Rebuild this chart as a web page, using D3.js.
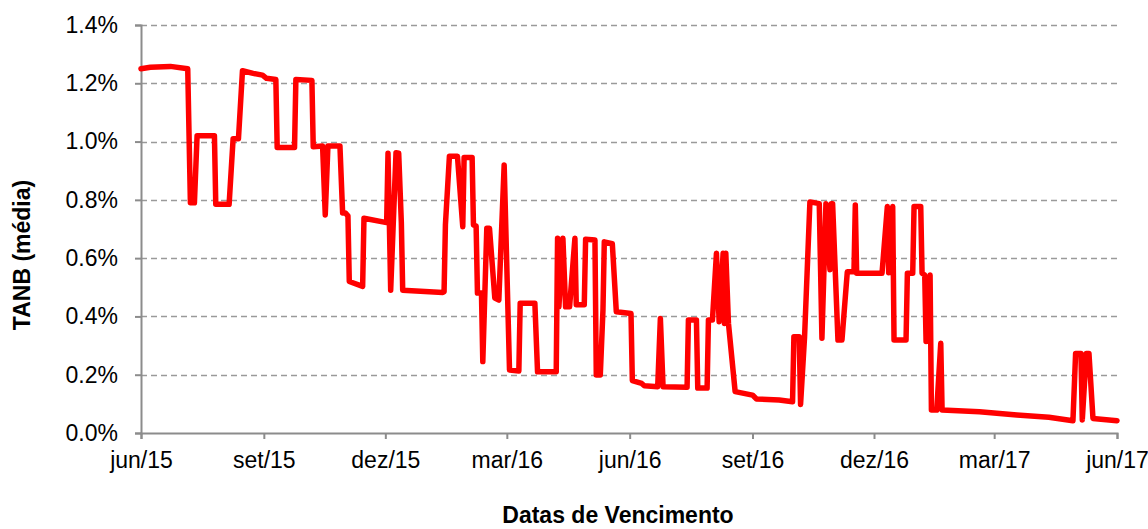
<!DOCTYPE html>
<html>
<head>
<meta charset="utf-8">
<script src="https://cdn.jsdelivr.net/npm/d3@7"></script>
<style>
  body { margin: 0; background: #fff; }
  text { font-family: "Liberation Sans", Arial, sans-serif; }
</style>
</head>
<body>
<div id="chart"></div>
<script>
const dates = [
  '2015-06-01','2015-06-08','2015-06-23','2015-07-06','2015-07-08','2015-07-11','2015-07-13','2015-07-26','2015-07-27','2015-08-06',
  '2015-08-09','2015-08-13','2015-08-16','2015-08-24','2015-08-31','2015-09-03','2015-09-10','2015-09-11','2015-09-24','2015-09-25',
  '2015-10-07','2015-10-08','2015-10-15','2015-10-17','2015-10-19','2015-10-28','2015-10-30','2015-11-01','2015-11-03','2015-11-04',
  '2015-11-14','2015-11-15','2015-12-02','2015-12-03','2015-12-05','2015-12-09','2015-12-11','2015-12-13','2015-12-14','2016-01-13',
  '2016-01-14','2016-01-15','2016-01-18','2016-01-24','2016-01-28','2016-01-29','2016-02-04','2016-02-05','2016-02-07','2016-02-08',
  '2016-02-11','2016-02-12','2016-02-15','2016-02-17','2016-02-21','2016-02-24','2016-02-28','2016-03-03','2016-03-10','2016-03-11',
  '2016-03-22','2016-03-24','2016-04-07','2016-04-08','2016-04-09','2016-04-12','2016-04-14','2016-04-17','2016-04-21','2016-04-22',
  '2016-04-28','2016-04-29','2016-05-06','2016-05-07','2016-05-10','2016-05-12','2016-05-13','2016-05-19','2016-05-22','2016-06-02',
  '2016-06-03','2016-06-10','2016-06-12','2016-06-22','2016-06-24','2016-06-26','2016-07-14','2016-07-15','2016-07-21','2016-07-22',
  '2016-07-29','2016-07-30','2016-08-02','2016-08-05','2016-08-07','2016-08-10','2016-08-11','2016-08-12','2016-08-14','2016-08-19',
  '2016-09-01','2016-09-04','2016-09-21','2016-10-01','2016-10-02','2016-10-06','2016-10-07','2016-10-10','2016-10-14','2016-10-21',
  '2016-10-23','2016-10-26','2016-10-29','2016-10-30','2016-10-31','2016-11-04','2016-11-07','2016-11-11','2016-11-16','2016-11-17',
  '2016-11-18','2016-12-07','2016-12-11','2016-12-12','2016-12-15','2016-12-16','2016-12-25','2016-12-26','2016-12-30','2016-12-31',
  '2017-01-05','2017-01-06','2017-01-08','2017-01-09','2017-01-12','2017-01-13','2017-01-17','2017-01-20','2017-01-21','2017-02-18',
  '2017-03-18','2017-04-11','2017-04-29','2017-05-01','2017-05-05','2017-05-06','2017-05-09','2017-05-11','2017-05-14','2017-06-01'
];

// TANB média, em %
const tanb = [
  1.25,1.255,1.258,1.25,0.79,0.79,1.02,1.02,0.785,0.785,
  1.01,1.01,1.243,1.234,1.228,1.217,1.213,0.98,0.98,1.213,
  1.21,0.982,0.985,0.748,0.985,0.985,0.755,0.755,0.745,0.52,
  0.503,0.737,0.722,0.96,0.49,0.962,0.96,0.72,0.49,0.482,
  0.485,0.714,0.95,0.95,0.708,0.945,0.945,0.714,0.71,0.48,
  0.48,0.245,0.703,0.703,0.463,0.456,0.92,0.216,0.213,0.445,
  0.445,0.21,0.21,0.668,0.433,0.668,0.433,0.433,0.668,0.44,
  0.44,0.665,0.662,0.199,0.199,0.422,0.656,0.65,0.416,0.41,
  0.18,0.17,0.162,0.159,0.393,0.159,0.157,0.388,0.388,0.154,
  0.154,0.388,0.388,0.617,0.382,0.617,0.376,0.617,0.376,0.142,
  0.13,0.117,0.113,0.107,0.33,0.33,0.098,0.33,0.793,0.787,
  0.325,0.787,0.56,0.787,0.787,0.319,0.319,0.553,0.553,0.782,
  0.548,0.548,0.777,0.55,0.777,0.319,0.319,0.548,0.548,0.777,
  0.777,0.548,0.542,0.314,0.542,0.079,0.079,0.308,0.079,0.073,
  0.062,0.054,0.042,0.273,0.273,0.045,0.273,0.273,0.05,0.042
];

const xTickDates = ['2015-06-01','2015-09-01','2015-12-01','2016-03-01','2016-06-01','2016-09-01','2016-12-01','2017-03-01','2017-06-01'];
const xTickLabels = ['jun/15','set/15','dez/15','mar/16','jun/16','set/16','dez/16','mar/17','jun/17'];
const yTicks = [0, 0.2, 0.4, 0.6, 0.8, 1.0, 1.2, 1.4];

const width = 1148, height = 529;
const margin = { top: 25, right: 31, bottom: 96, left: 141 };
const fontSize = '23px';

const parse = d3.timeParse('%Y-%m-%d');
const data = dates.map((d, i) => ({ date: parse(d), value: tanb[i] }));

const svg = d3.select('#chart').append('svg')
  .attr('width', width)
  .attr('height', height);

const x = d3.scaleTime()
  .domain([parse(xTickDates[0]), parse(xTickDates[xTickDates.length - 1])])
  .range([margin.left, width - margin.right]);

const y = d3.scaleLinear()
  .domain([0, 1.4])
  .range([height - margin.bottom, margin.top]);

// gridlines
svg.append('g')
  .selectAll('line')
  .data(yTicks.filter(t => t > 0))
  .enter().append('line')
  .attr('x1', margin.left)
  .attr('x2', width - margin.right)
  .attr('y1', d => Math.round(y(d)) + 0.5)
  .attr('y2', d => Math.round(y(d)) + 0.5)
  .attr('stroke', '#9a9a9a')
  .attr('stroke-width', 1.5)
  .attr('stroke-dasharray', '6,4');

// y axis
const yAxis = svg.append('g')
  .attr('transform', `translate(${margin.left},0)`)
  .call(d3.axisLeft(y).tickValues(yTicks).tickSize(6).tickPadding(17)
    .tickFormat(d => d.toFixed(1) + '%'));
yAxis.select('.domain').attr('stroke', '#8c8c8c').attr('stroke-width', 2);
yAxis.selectAll('.tick line').attr('stroke', '#8c8c8c').attr('stroke-width', 2);
yAxis.selectAll('.tick text')
  .style('font-size', fontSize)
  .attr('fill', '#000');

// x axis
const xAxis = svg.append('g')
  .attr('transform', `translate(0,${height - margin.bottom})`)
  .call(d3.axisBottom(x).tickValues(xTickDates.map(parse)).tickSize(6).tickPadding(13)
    .tickFormat((d, i) => xTickLabels[i]));
xAxis.select('.domain').attr('stroke', '#8c8c8c').attr('stroke-width', 2);
xAxis.selectAll('.tick line').attr('stroke', '#8c8c8c').attr('stroke-width', 2);
xAxis.selectAll('.tick text')
  .style('font-size', fontSize)
  .attr('fill', '#000');

// line
const line = d3.line()
  .x(d => x(d.date))
  .y(d => y(d.value));

svg.append('path')
  .datum(data)
  .attr('d', line)
  .attr('fill', 'none')
  .attr('stroke', '#ff0000')
  .attr('stroke-width', 5.5)
  .attr('stroke-linejoin', 'round')
  .attr('stroke-linecap', 'round');

// axis titles
svg.append('text')
  .attr('transform', 'translate(30,255) rotate(-90)')
  .attr('text-anchor', 'middle')
  .style('font-size', fontSize)
  .style('font-weight', 'bold')
  .text('TANB (média)');

svg.append('text')
  .attr('x', 618)
  .attr('y', 523)
  .attr('text-anchor', 'middle')
  .style('font-size', fontSize)
  .style('font-weight', 'bold')
  .text('Datas de Vencimento');
</script>
</body>
</html>
